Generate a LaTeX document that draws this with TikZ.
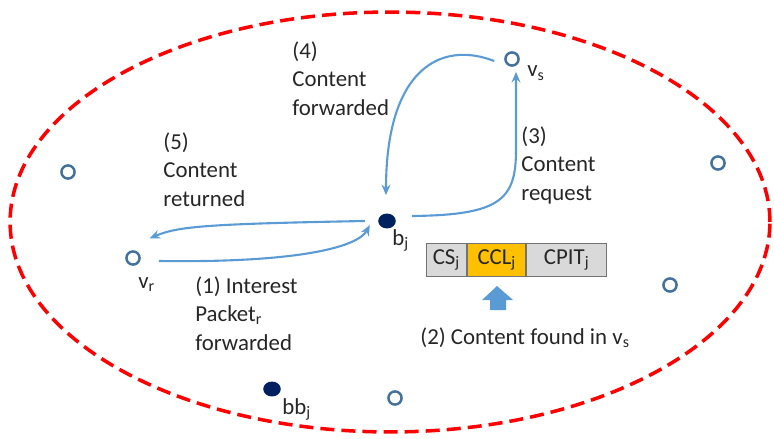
\documentclass[tikz,border=0pt]{standalone}
\usepackage{fontspec}
\setmainfont{Carlito}
\usetikzlibrary{arrows.meta,positioning,shapes.geometric}
\definecolor{ringblue}{HTML}{41719C}
\definecolor{busnavy}{HTML}{002060}
\definecolor{flowblue}{HTML}{5B9BD5}
\definecolor{cclorange}{HTML}{FFC000}
\definecolor{cellgray}{HTML}{D9D9D9}
\tikzset{
  car/.style={circle, draw=ringblue, line width=1.4pt, fill=white, minimum size=7.5pt, inner sep=0pt},
  bus/.style={ellipse, fill=busnavy, minimum width=10pt, minimum height=8.5pt, inner sep=0pt},
  flow/.style={draw=flowblue, line width=1.2pt, -{Stealth[length=6pt,width=5pt]}},
  lbl/.style={font=\fontsize{13}{16.2}\selectfont, text=black!85, inner sep=0pt, align=left},
  cell/.style={draw=black!55, line width=0.6pt, minimum height=19.3pt, inner sep=0pt, font=\fontsize{13}{16}\selectfont, text=black!85}
}

\begin{document}
\begin{tikzpicture}[x=0.02cm, y=-0.02cm]
			%%%%% START %%%%%
			\useasboundingbox (0,0) rectangle (774,439);
			\draw[red, line width=2pt, dash pattern=on 8pt off 4pt] (390,222) ellipse [x radius=7.6cm, y radius=4.2cm];
			
			% vehicles
			\node[car] (vs) at (512,59) {};
			\node[car] (vr) at (133,258) {};
			\node[car] (o1) at (68,172) {};
			\node[car] (o2) at (718,163) {};
			\node[car] (o3) at (670,285) {};
			\node[car] (o4) at (395,398) {};
			
			% buses
			\node[bus] (bj) at (387,221) {};
			\node[bus] (bbj) at (272,389) {};
			
			\node[lbl, anchor=base west] (vsname) at (527,77) {v\textsubscript{s}};
			\node[lbl, anchor=base west] (bjname) at (392,245) {b\textsubscript{j}};
			\node[lbl, anchor=base west] (vrname) at (138,288) {v\textsubscript{r}};
			\node[lbl, anchor=base west] (bbjname) at (282,414) {bb\textsubscript{j}};
			
			% table of bj
			\node[cell, fill=cellgray, minimum width=23.2pt] (cs) at (446.5,260) {CS\textsubscript{j}};
			\node[cell, fill=cclorange, minimum width=32.9pt, right=0pt of cs] (ccl) {CCL\textsubscript{j}};
			\node[cell, fill=cellgray, minimum width=45.4pt, right=0pt of ccl] (cpit) {CPIT\textsubscript{j}};
			\fill[flowblue] (490,310) -- (490,300) -- (482,300) -- (497,286) -- (513,300) -- (506,300) -- (506,310) -- cycle;
			
			% steps (anchored at the baseline of the last line)
			\node[lbl, anchor=base west] (step1) at (195,350) {(1) Interest\\Packet\textsubscript{r}\\forwarded};
			\node[lbl, anchor=base west] (step2) at (420,344) {(2) Content found in v\textsubscript{s}};
			\node[lbl, anchor=base west] (step3) at (521,200) {(3)\\Content\\request};
			\node[lbl, anchor=base west] (step4) at (292,115) {(4)\\Content\\forwarded};
			\node[lbl, anchor=base west] (step5) at (163,206) {(5)\\Content\\returned};
			
			% messages
			\draw[flow] ([shift={(18,3)}]vr.east) .. controls +(140,2) and +(-12,22) .. ([shift={(-8,4)}]bj.west);
			\draw[flow] ([shift={(-13,0)}]bj.west) .. controls +(-160,3) and +(28,-12) .. ([shift={(11,-14)}]vr.north east);
			\draw[flow] ([shift={(16,-5)}]bj.east) .. controls (500,215) and (516,200) .. (516,150) -- ([shift={(4,5)}]vs.south);
			\draw[flow] ([shift={(-10,2)}]vs.west) .. controls (440,40) and (386,70) .. ([shift={(-1,-18)}]bj.north);
			%%%%% END %%%%%
\end{tikzpicture}
\end{document}
